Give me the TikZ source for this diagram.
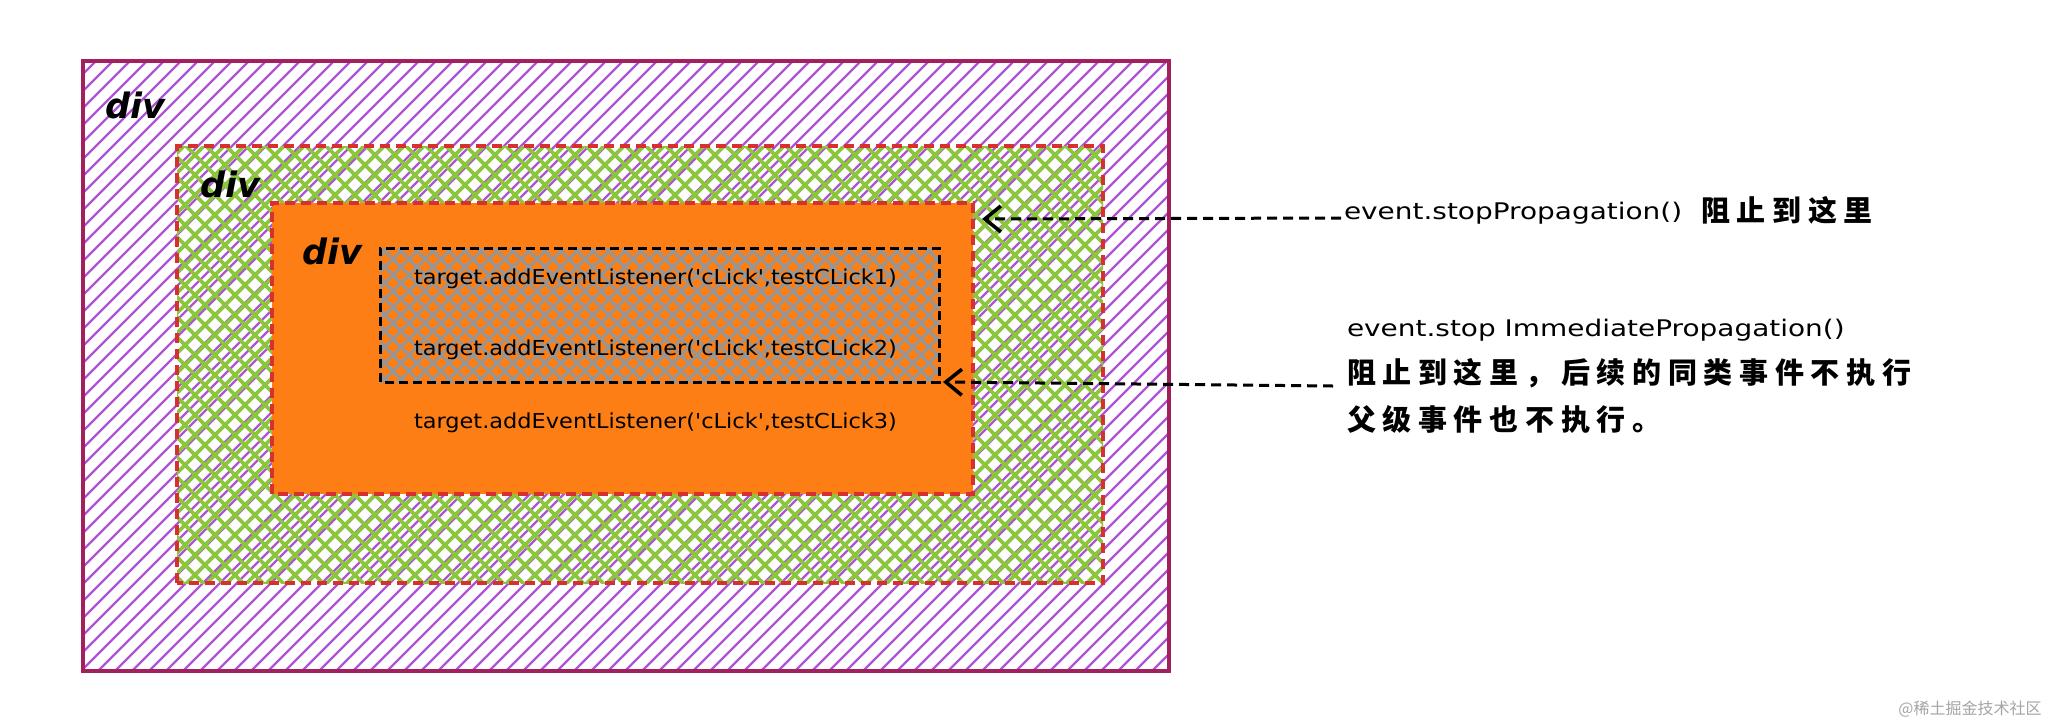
\documentclass[tikz,border=0pt]{standalone}
\usepackage{fontspec}
\newfontfamily\lat{DejaVu Sans}
\newfontfamily\cjk[LetterSpace=23]{Noto Sans CJK SC}
\newfontfamily\cjkplain{Noto Sans CJK SC}
\usetikzlibrary{arrows.meta,calc}
\definecolor{purpleH}{RGB}{176,84,214}
\definecolor{outerB}{RGB}{163,32,95}
\definecolor{greenH}{RGB}{140,198,63}
\definecolor{redD}{RGB}{214,48,49}
\definecolor{orangeF}{RGB}{253,126,20}
\definecolor{grayH}{RGB}{150,150,150}
\definecolor{wmark}{RGB}{165,165,165}
\tikzset{
  region/.style={inner sep=0pt, outer sep=0pt, draw=none},
  lab/.style={inner sep=0pt, outer sep=0pt, anchor=base west, text=black},
  divlab/.style={lab, font=\fontsize{17.5pt}{21pt}\lat\bfseries\itshape},
  codetext/.style={lab, font=\fontsize{10.3pt}{12pt}\lat},
  anntext/.style={lab, font=\fontsize{11.45pt}{14pt}\lat},
  cjktext/.style={lab, font=\fontsize{14.5pt}{17pt}\cjk\bfseries},
  reddash/.style={draw=redD, line width=1.6pt, dash pattern=on 5pt off 3pt},
  blackdash/.style={draw=black, line width=1.5pt, dash pattern=on 4.5pt off 2.5pt},
  arr/.style={draw=black, line width=1.5pt, dash pattern=on 5pt off 3pt,
    -{Straight Barb[length=8pt,width=13pt,line width=1.8pt]}},
}
\begin{document}
\begin{tikzpicture}[x=0.5pt,y=-0.5pt]
\useasboundingbox (0,0) rectangle (2050,724);
\fill[white] (0,0) rectangle (2050,724);

% named regions
\node[region, minimum width=543pt, minimum height=305pt] (outer) at (626,366) {};
\node[region, minimum width=463pt, minimum height=218.5pt] (green) at (640,364.5) {};
\node[region, minimum width=350.5pt, minimum height=145.5pt] (orange) at (622.5,348.5) {};
\node[region, minimum width=279.5pt, minimum height=67pt] (gray) at (659.5,315) {};

% outer purple hachure
\begin{scope}
  \clip (outer.south west) rectangle (outer.north east);
  \foreach \c in {-540,-523,...,1180}
    \draw[purpleH, line width=1.2pt] (\c,680) -- ++(620,-620);
\end{scope}
\draw[outerB, line width=1.6pt] (outer.south west) rectangle (outer.north east);

% green cross-hatch
\begin{scope}
  \clip (green.south west) rectangle (green.north east);
  \foreach \c in {-280,-260,...,1110} {
    \draw[greenH, line width=1.8pt] (\c,590) -- ++(450,-450);
    \draw[greenH, line width=1.8pt] (\c,140) -- ++(450,450);
  }
\end{scope}
\draw[reddash] (green.south west) rectangle (green.north east);

% orange box
\fill[orangeF] (orange.south west) rectangle (orange.north east);
\draw[reddash] (orange.south west) rectangle (orange.north east);

% gray cross-hatch
\begin{scope}
  \clip (gray.south west) rectangle (gray.north east);
  \foreach \c in {230,246,...,950} {
    \draw[grayH, line width=1.5pt] (\c,390) -- ++(145,-145);
    \draw[grayH, line width=1.5pt] (\c,240) -- ++(145,145);
  }
\end{scope}
\draw[blackdash] (gray.south west) rectangle (gray.north east);

% labels
\node[divlab] (div1) at (105,118) {div};
\node[divlab] (div2) at (200,197) {div};
\node[divlab] (div3) at (302,264) {div};

\node[codetext] (code1) at (414,284) {\scalebox{1.09}[1]{target.addEventListener('cLick',testCLick1)}};
\node[codetext] (code2) at (414,355) {\scalebox{1.09}[1]{target.addEventListener('cLick',testCLick2)}};
\node[codetext] (code3) at (414,428) {\scalebox{1.09}[1]{target.addEventListener('cLick',testCLick3)}};

\node[anntext] (ann1) at (1344,219) {\scalebox{1.22}[1]{event.stopPropagation()}};
\node[cjktext] (cjk1) at (1701,221) {阻止到这里};
\node[anntext] (ann2) at (1347,336) {\scalebox{1.22}[1]{event.stop ImmediatePropagation()}};
\node[cjktext] (cjk2) at (1347,383) {阻止到这里，后续的同类事件不执行};
\node[cjktext] (cjk3) at (1347,430) {父级事件也不执行。};

\node[inner sep=0pt, anchor=base east, text=wmark, font=\fontsize{8pt}{10pt}\cjkplain] (wm) at (2042,714) {@稀土掘金技术社区};

% arrows
\coordinate (t1) at ([xshift=4.5pt,yshift=-8pt]orange.north east);
\coordinate (s1) at ([xshift=-1.5pt,yshift=0.5pt]ann1.base west);
\coordinate (t2) at ([xshift=2pt]gray.south east);
\coordinate (s2) at ([xshift=-7pt,yshift=-1.5pt]cjk2.base west);
\draw[arr] (s1) -- (t1);
\draw[arr] (s2) -- (t2);
\end{tikzpicture}
\end{document}
